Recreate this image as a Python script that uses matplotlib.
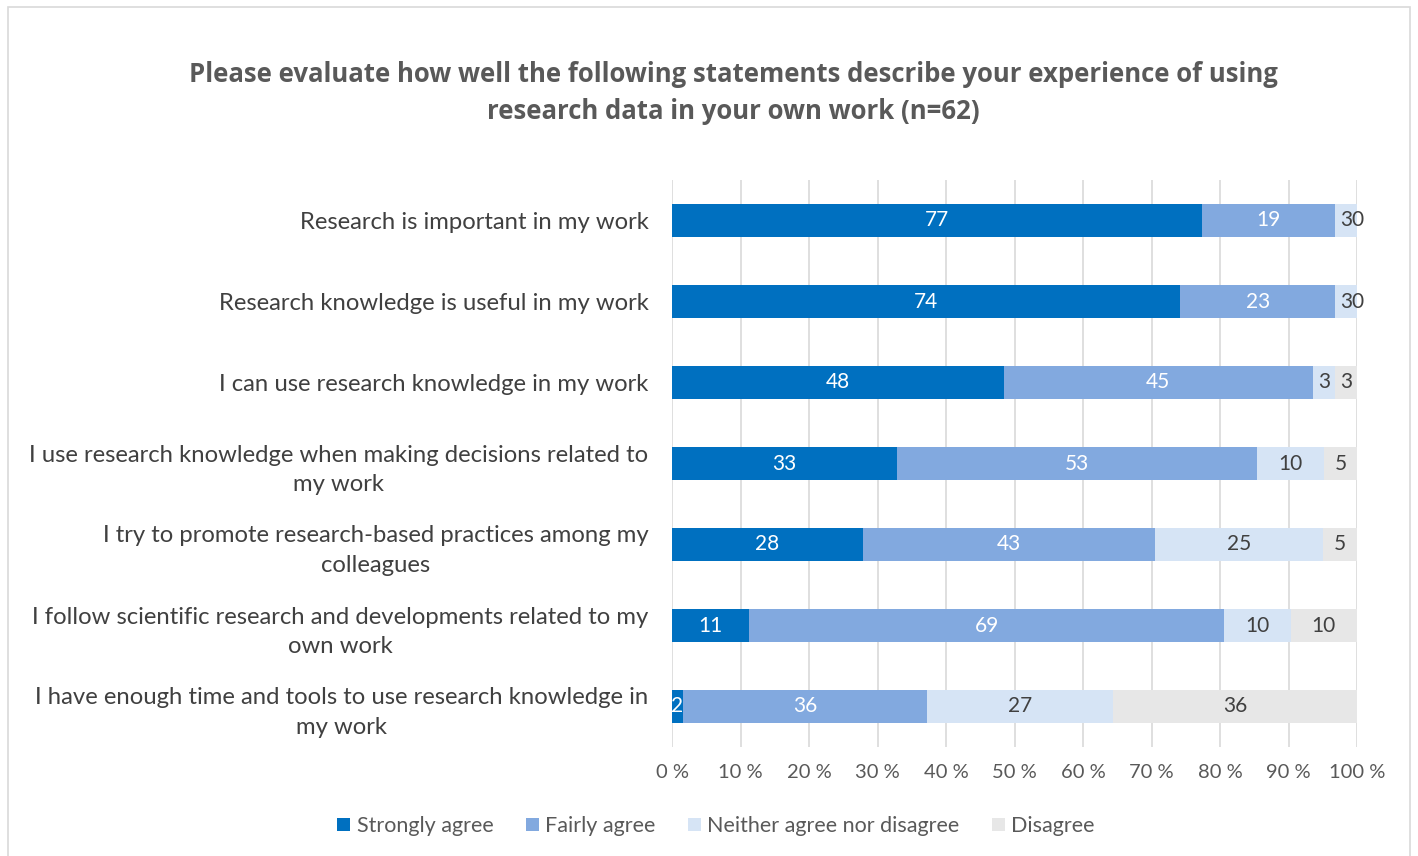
import matplotlib
matplotlib.use("Agg")
import matplotlib.pyplot as plt
from matplotlib.patches import Rectangle, Patch
import numpy as np

categories = [
    "Research is important in my work",
    "Research knowledge is useful in my work",
    "I can use research knowledge in my work",
    "I use research knowledge when making decisions related to\nmy work",
    "I try to promote research-based practices among my\ncolleagues",
    "I follow scientific research and developments related to my\nown work",
    "I have enough time and tools to use research knowledge in\nmy work",
]
series_names = ["Strongly agree", "Fairly agree", "Neither agree nor disagree", "Disagree"]
strongly = [77.4, 74.2, 48.4, 32.8, 27.9, 11.3, 1.6]
fairly = [19.4, 22.6, 45.2, 52.6, 42.6, 69.4, 35.6]
neither = [3.2, 3.2, 3.2, 9.8, 24.6, 9.7, 27.2]
disagree = [0.0, 0.0, 3.2, 4.8, 4.9, 9.7, 35.6]
xtick_labels = [f"{v} %" for v in range(0, 101, 10)]

colors = ["#0070C0", "#82A9DF", "#D6E4F5", "#E7E7E7"]
label_colors = ["white", "white", "#404040", "#404040"]

FONT = "Lato"
plt.rcParams["font.family"] = [FONT, "DejaVu Sans"]

fig = plt.figure(figsize=(14.18, 8.56), dpi=100)
# outer chart border
fig.patches.append(Rectangle((8/1418, -0.01), 1402/1418, 1 - 7/856 + 0.01,
                             transform=fig.transFigure, fill=False,
                             edgecolor="#D9D9D9", linewidth=1.2))

ax = fig.add_axes([672/1418, 1 - 747/856, 685/1418, 567/856])

data = np.array([strongly, fairly, neither, disagree])
totals = data.sum(axis=0)
pct = data / totals * 100
y = np.arange(len(categories))
left = np.zeros(len(categories))
for i, name in enumerate(series_names):
    ax.barh(y, pct[i], left=left, height=0.40, color=colors[i], label=name, zorder=3)
    for j in range(len(categories)):
        cx = left[j] + pct[i][j] / 2
        ax.text(cx, y[j], f"{data[i][j]:.0f}", ha="center", va="center",
                color=label_colors[i], fontsize=15, zorder=4)
    left += pct[i]

ax.set_ylim(len(categories) - 0.5, -0.5)
ax.set_xlim(0, 100)
ax.set_yticks(y)
ax.set_yticklabels(categories, fontsize=17.2, color="#404040", linespacing=1.5,
                   multialignment="center")
ax.set_xticks(np.arange(0, 101, 10))
ax.set_xticklabels(xtick_labels, fontsize=14.5, color="#595959")
ax.tick_params(axis="y", length=0, pad=17)
ax.tick_params(axis="x", length=0, pad=12)
ax.grid(axis="x", color="#D9D9D9", linewidth=1.2, zorder=0)
for s in ax.spines.values():
    s.set_visible(False)

fig.text(733/1418, 1 - 93/856,
         "Please evaluate how well the following statements describe your experience of using\nresearch data in your own work (n=62)",
         ha="center", va="center", fontsize=18.5, fontweight="bold", color="#595959",
         family=["Open Sans", "DejaVu Sans"], linespacing=1.5)

handles = [Patch(facecolor=c, edgecolor="none") for c in colors]
fig.legend(handles, series_names, loc="center", bbox_to_anchor=(716/1418, 1 - 826/856),
           ncol=4, frameon=False, fontsize=15.5, handlelength=0.6, handleheight=0.6,
           handletextpad=0.3, columnspacing=1.5, labelcolor="#595959")

fig.savefig("out.png", dpi=100)
